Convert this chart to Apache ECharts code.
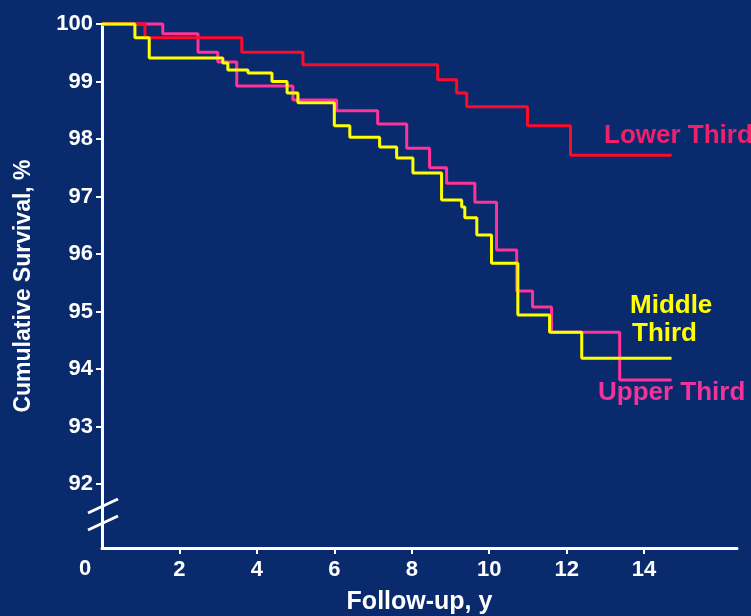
<!DOCTYPE html>
<html>
<head>
<meta charset="utf-8">
<script src="https://cdn.jsdelivr.net/npm/echarts@6/dist/echarts.min.js"></script>
<style>
  html, body { margin: 0; padding: 0; background: #0a2a6e; }
  #main { width: 751px; height: 616px; }
</style>
</head>
<body>
<div id="main"></div>
<script>
// 坐标轴刻度
const xTicks = [2, 4, 6, 8, 10, 12, 14]
const yTicks = [92, 93, 94, 95, 96, 97, 98, 99, 100]

// Lower Third
const lowerTime = [0, 1.11, 3.61, 5.19, 8.67, 9.16, 9.42, 10.99, 12.1, 14.71]
const lowerSurv = [100, 99.76, 99.51, 99.29, 99.03, 98.8, 98.56, 98.23, 97.72, 97.72]

// Middle Third
const middleTime = [0, 0.85, 1.22, 3.12, 3.25, 3.77, 4.39, 4.78, 5.06, 6.0, 6.4, 7.17, 7.61, 8.03, 8.77, 9.29, 9.37, 9.68, 10.06, 10.74, 11.56, 12.39, 14.71]
const middleSurv = [100, 99.76, 99.41, 99.32, 99.2, 99.15, 99.0, 98.8, 98.63, 98.23, 98.03, 97.86, 97.67, 97.41, 96.94, 96.82, 96.63, 96.33, 95.84, 94.94, 94.64, 94.19, 94.19]

// Upper Third
const upperTime = [0, 1.57, 2.48, 2.99, 3.48, 4.93, 6.06, 7.12, 7.87, 8.46, 8.9, 9.63, 10.19, 10.71, 11.12, 11.61, 13.37, 14.71]
const upperSurv = [100, 99.83, 99.51, 99.34, 98.92, 98.68, 98.49, 98.26, 97.84, 97.5, 97.23, 96.9, 96.07, 95.36, 95.08, 94.64, 93.81, 93.81]

const zip = (t, s) => t.map((v, i) => [v, s[i]])

const font = 'Liberation Sans, Arial, sans-serif'
const myChart = echarts.init(document.getElementById('main'))

myChart.setOption({
  backgroundColor: '#0a2a6e',
  animation: false,
  grid: { left: 102, right: 14, top: 24, bottom: 68, outerBoundsMode: 'none' },
  xAxis: {
    type: 'value',
    min: 0,
    max: 16.4,
    name: 'Follow-up, y',
    nameLocation: 'middle',
    nameGap: 42,
    nameTextStyle: { color: '#ffffff', fontSize: 25, fontWeight: 'bold', fontFamily: font },
    axisLine: { lineStyle: { color: '#ffffff', width: 3 } },
    axisTick: { customValues: xTicks, length: 6, lineStyle: { color: '#ffffff', width: 2 } },
    axisLabel: { customValues: xTicks, margin: 11, color: '#ffffff', fontSize: 22, fontWeight: 'bold', fontFamily: font },
    splitLine: { show: false }
  },
  yAxis: {
    type: 'value',
    min: 90.89,
    max: 100,
    name: 'Cumulative Survival, %',
    nameLocation: 'middle',
    nameGap: 67,
    nameTextStyle: { color: '#ffffff', fontSize: 23, fontWeight: 'bold', fontFamily: font },
    axisLine: { show: true, lineStyle: { color: '#ffffff', width: 3 } },
    axisTick: { customValues: yTicks, length: 6, lineStyle: { color: '#ffffff', width: 2 } },
    axisLabel: { customValues: yTicks, margin: 9, color: '#ffffff', fontSize: 22, fontWeight: 'bold', fontFamily: font },
    splitLine: { show: false }
  },
  series: [
    {
      name: 'Upper Third',
      type: 'line',
      step: 'end',
      clip: false,
      symbol: 'none',
      lineStyle: { color: '#ff3399', width: 3 },
      data: zip(upperTime, upperSurv)
    },
    {
      name: 'Lower Third',
      type: 'line',
      step: 'end',
      clip: false,
      symbol: 'none',
      lineStyle: { color: '#ff0a28', width: 3 },
      data: zip(lowerTime, lowerSurv)
    },
    {
      name: 'Middle Third',
      type: 'line',
      step: 'end',
      clip: false,
      symbol: 'none',
      lineStyle: { color: '#ffff00', width: 3 },
      data: zip(middleTime, middleSurv)
    }
  ],
  graphic: [
    // 原点的 0
    { type: 'text', left: 79, top: 558, style: { text: '0', fill: '#ffffff', font: 'bold 22px ' + font } },
    // 坐标轴断开符号
    { type: 'line', shape: { x1: 88, y1: 513, x2: 118, y2: 499 }, style: { stroke: '#ffffff', lineWidth: 3 } },
    { type: 'line', shape: { x1: 88, y1: 530, x2: 118, y2: 516 }, style: { stroke: '#ffffff', lineWidth: 3 } },
    // 曲线标签
    { type: 'text', left: 604, top: 123, style: { text: 'Lower Third', fill: '#f0206a', font: 'bold 26px ' + font } },
    { type: 'text', left: 630, top: 293, style: { text: 'Middle', fill: '#ffff00', font: 'bold 26px ' + font } },
    { type: 'text', left: 632, top: 321, style: { text: 'Third', fill: '#ffff00', font: 'bold 26px ' + font } },
    { type: 'text', left: 598, top: 380, style: { text: 'Upper Third', fill: '#f0349a', font: 'bold 26px ' + font } }
  ]
})
</script>
</body>
</html>
